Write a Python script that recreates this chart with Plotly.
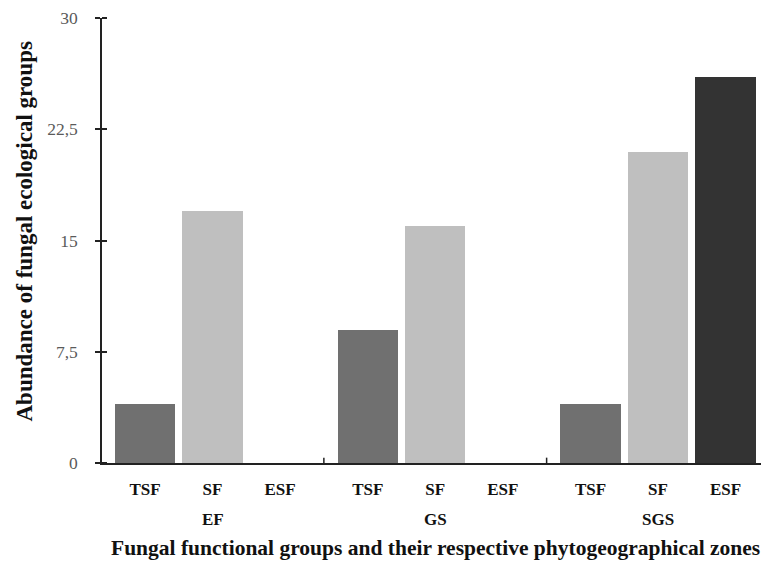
import plotly.graph_objects as go

# ---- data ----
zones = ["EF", "GS", "SGS"]
functional_groups = ["TSF", "SF", "ESF"]
tsf_values = [4, 9, 4]
sf_values = [17, 16, 21]
esf_values = [0, 0, 26]
series_values = [tsf_values, sf_values, esf_values]
colors = ["#707070", "#bfbfbf", "#333333"]
y_ticks = [0, 7.5, 15, 22.5, 30]

GROUP_STEP = 3.3
BAR_WIDTH = 0.89

def pos(g, k):
    return g * GROUP_STEP + k

fig = go.Figure()
for k, (name, vals, col) in enumerate(zip(functional_groups, series_values, colors)):
    fig.add_trace(go.Bar(
        x=[pos(g, k) for g in range(len(zones))],
        y=vals,
        name=name,
        width=BAR_WIDTH,
        marker=dict(color=col, line=dict(width=0)),
        showlegend=False,
    ))

tickvals = [pos(g, k) for g in range(len(zones)) for k in range(len(functional_groups))]
ticktext = [fg for g in range(len(zones)) for fg in functional_groups]

font_family = "Liberation Serif"

# separators between zone groups
for g in range(len(zones) - 1):
    xs = pos(g, 2) + (GROUP_STEP - 2) / 2
    fig.add_shape(type="line", xref="x", yref="y", x0=xs, x1=xs, y0=-0.36, y1=0.36,
                  line=dict(color="#222222", width=1.5))

# zone labels
for g, z in enumerate(zones):
    fig.add_annotation(x=pos(g, 1), y=-0.128, xref="x", yref="paper", text="<b>%s</b>" % z,
                       showarrow=False, yanchor="middle",
                       font=dict(family=font_family, size=17, color="#111111"))

fig.add_annotation(x=0.506, y=-0.192, xref="paper", yref="paper",
                   text="<b>Fungal functional groups and their respective phytogeographical zones</b>",
                   showarrow=False, yanchor="middle", xanchor="center",
                   font=dict(family=font_family, size=21.5, color="#111111"))

fig.add_annotation(x=-0.117, y=0.52, xref="paper", yref="paper",
                   text="<b>Abundance of fungal ecological groups</b>", textangle=-90,
                   showarrow=False, xanchor="center", yanchor="middle",
                   font=dict(family=font_family, size=23, color="#111111"))

fig.update_layout(
    width=761, height=562,
    margin=dict(l=102, r=0, t=18, b=99),
    paper_bgcolor="white", plot_bgcolor="white",
    separators=",.",
    bargap=0,
    xaxis=dict(
        range=[-0.637, 9.126],
        tickmode="array", tickvals=tickvals, ticktext=["<b>%s</b>" % t for t in ticktext],
        ticks="", showgrid=False, zeroline=False,
        showline=True, linecolor="#222222", linewidth=1.5,
        tickfont=dict(family=font_family, size=17, color="#111111"),
        ticklabelstandoff=10,
    ),
    yaxis=dict(
        range=[0, 30],
        tickmode="array", tickvals=y_ticks,
        ticks="outside", ticklen=5, tickwidth=1.5, tickcolor="#222222",
        minor=dict(tickmode="array", tickvals=y_ticks, ticks="inside", ticklen=5,
                   tickwidth=1.5, tickcolor="#222222", showgrid=False),
        showgrid=False, zeroline=False,
        showline=True, linecolor="#222222", linewidth=1.5,
        tickfont=dict(family=font_family, size=17.5, color="#5a5a5a"),
        ticklabelstandoff=14,
    ),
)

fig.write_html("out.html", config={"displayModeBar": False},
               post_script="document.body.style.margin='0';document.body.style.overflow='hidden';")
